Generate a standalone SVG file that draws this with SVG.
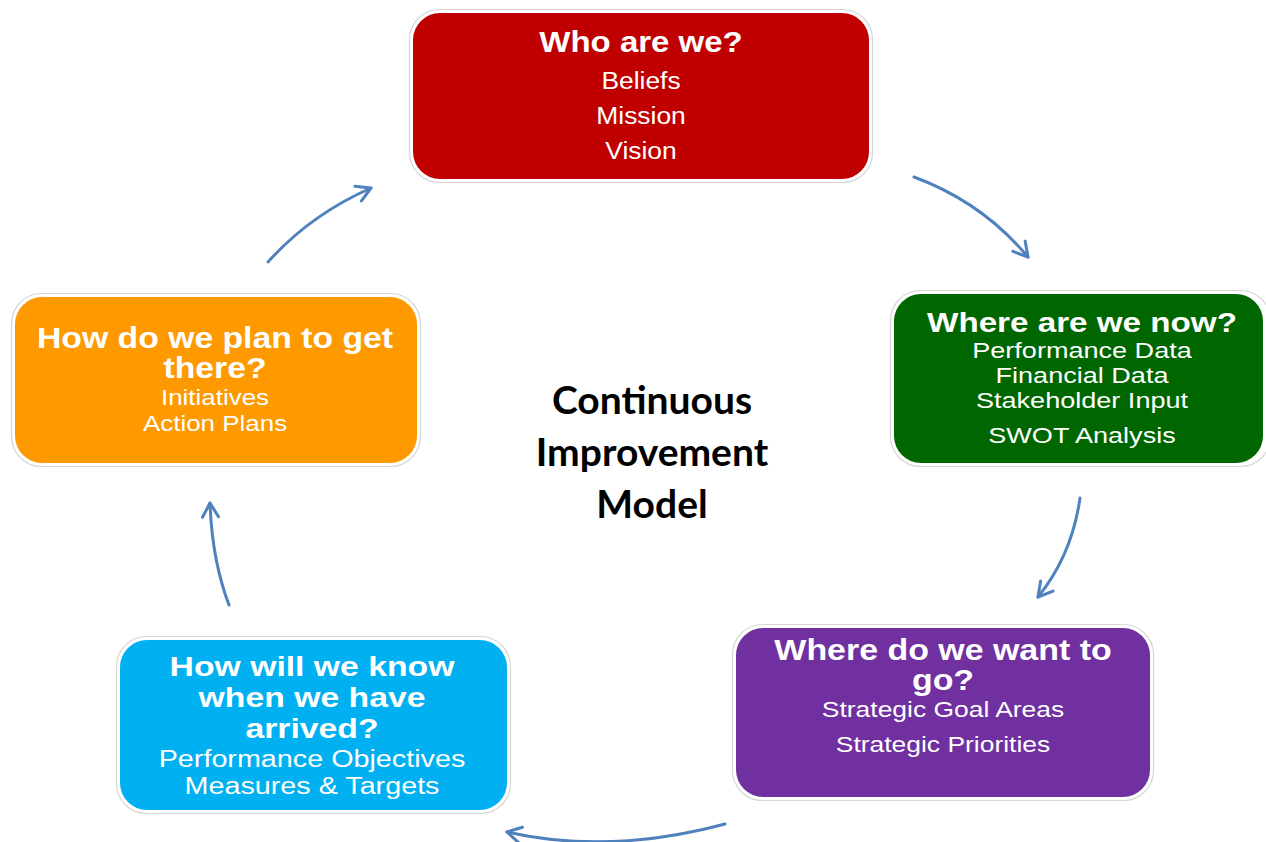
<svg xmlns="http://www.w3.org/2000/svg" width="1266" height="842" viewBox="0 0 1266 842">
<defs>
<style>
.outer{fill:#ffffff;stroke:#d6d6d6;stroke-width:1.2}
.t{font-family:"Liberation Sans",Arial,sans-serif;font-weight:bold;fill:#ffffff;text-anchor:middle}
.b{font-family:"Liberation Sans",Arial,sans-serif;fill:#ffffff;text-anchor:middle}
.c{font-family:Lato,"Open Sans",sans-serif;font-weight:bold;fill:#000000;text-anchor:middle;font-size:39px}
.arr{fill:none;stroke:#4F81BD;stroke-width:3;stroke-linecap:round;marker-end:url(#ah)}
</style>
<marker id="ah" viewBox="0 0 20 20" refX="17" refY="10" markerWidth="20" markerHeight="20" markerUnits="userSpaceOnUse" orient="auto">
<path d="M3,2 L17,10 L3,18" fill="none" stroke="#4F81BD" stroke-width="3" stroke-linecap="round" stroke-linejoin="round"/>
</marker>
</defs>
<rect width="1266" height="842" fill="#ffffff"/>

<g id="connectors">
<path class="arr" d="M268,262 Q310,215 371,188"/>
<path class="arr" d="M914,177 Q982,202 1028,257"/>
<path class="arr" d="M1080,498 Q1072,555 1038,597"/>
<path class="arr" d="M725,824 Q610,855 507,832"/>
<path class="arr" d="M229,605 Q212,560 210,503"/>
</g>

<g id="who">
<rect class="outer" x="409.5" y="9.5" width="463" height="173" rx="30"/>
<rect x="413" y="13" width="456" height="166" rx="27" fill="#C00000"/>
<g transform="translate(641 0) scale(1.1 1)">
<text class="t" x="0" y="52" font-size="30">Who are we?</text>
<text class="b" x="0" y="89" font-size="24">Beliefs</text>
<text class="b" x="0" y="124" font-size="24">Mission</text>
<text class="b" x="0" y="159" font-size="24">Vision</text>
</g>
</g>

<g id="now">
<rect class="outer" x="890.5" y="290.5" width="380" height="176" rx="30"/>
<rect x="894" y="294" width="369" height="169" rx="27" fill="#006600"/>
<g transform="translate(1082 0) scale(1.23 1)">
<text class="t" x="0" y="332" font-size="27">Where are we now?</text>
<text class="b" x="0" y="358" font-size="22">Performance Data</text>
<text class="b" x="0" y="383" font-size="22">Financial Data</text>
<text class="b" x="0" y="408" font-size="22">Stakeholder Input</text>
<text class="b" x="0" y="443" font-size="22">SWOT Analysis</text>
</g>
</g>

<g id="want">
<rect class="outer" x="732.5" y="624.5" width="421" height="176" rx="30"/>
<rect x="736" y="628" width="414" height="169" rx="27" fill="#7030A0"/>
<g transform="translate(943 0) scale(1.17 1)">
<text class="t" x="0" y="660" font-size="29">Where do we want to</text>
<text class="t" x="0" y="690" font-size="29">go?</text>
<text class="b" x="0" y="717" font-size="22.6">Strategic Goal Areas</text>
<text class="b" x="0" y="752" font-size="22.6">Strategic Priorities</text>
</g>
</g>

<g id="know">
<rect class="outer" x="116.5" y="636.5" width="394" height="177" rx="30"/>
<rect x="120" y="640" width="387" height="170" rx="27" fill="#00B0F0"/>
<g transform="translate(312 0) scale(1.25 1)">
<text class="t" x="0" y="676" font-size="27">How will we know</text>
<text class="t" x="0" y="707" font-size="27">when we have</text>
<text class="t" x="0" y="738" font-size="27">arrived?</text>
<text class="b" x="0" y="767" font-size="23">Performance Objectives</text>
<text class="b" x="0" y="794" font-size="23">Measures &amp; Targets</text>
</g>
</g>

<g id="plan">
<rect class="outer" x="11.5" y="293.5" width="409" height="173" rx="30"/>
<rect x="15" y="297" width="402" height="166" rx="27" fill="#FF9900"/>
<g transform="translate(215 0) scale(1.18 1)">
<text class="t" x="0" y="348" font-size="28.6">How do we plan to get</text>
<text class="t" x="0" y="378" font-size="28.6">there?</text>
<text class="b" x="0" y="405" font-size="22">Initiatives</text>
<text class="b" x="0" y="431" font-size="22">Action Plans</text>
</g>
</g>

<g id="center">
<text class="c" x="652" y="414">Continuous</text>
<text class="c" x="652" y="466">Improvement</text>
<text class="c" x="652" y="518">Model</text>
</g>
</svg>
